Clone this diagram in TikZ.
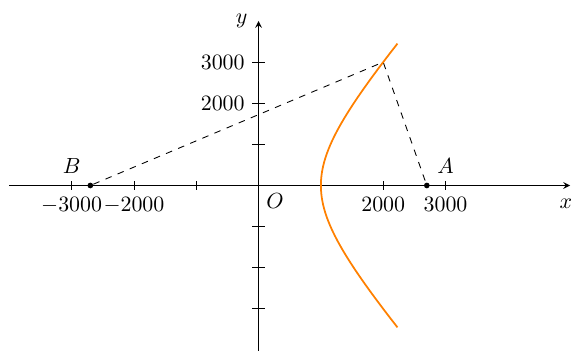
\documentclass[tikz,border=0pt]{standalone}
\usepackage{amsmath}
\usepackage{amssymb}
\usetikzlibrary{arrows.meta}
\definecolor{curveOrange}{HTML}{FF8000}

\begin{document}
\begin{tikzpicture}[x=1cm,y=0.66cm,>=stealth,
	dot/.style={circle,fill=black,inner sep=0pt,minimum size=2.6pt}]
			\useasboundingbox(-4.15,-4.02)rectangle(5.03,4.51);
			% axes
			\coordinate(xl)at(-4,0);\coordinate(xr)at(5,0);
			\coordinate(yb)at(0,-4.1);\coordinate(yt)at(0,4);
			\draw[->](xl)--(xr);
			\draw[->](yb)--(yt);
			\node(xlab)at(4.93,-0.44){$x$};
			\node(ylab)at(-0.27,4.0){$y$};
			\coordinate(O)at(0,0);
			\node[below right](olab)at(O){$O$};
			\foreach \x in{-3,-2,-1,1,2,3}{
				\draw(\x,-0.1)--(\x,0.1);
				\draw(-0.1,\x)--(0.1,\x);
			}
			\foreach \x/\lb in{-3/-3000,-2/-2000,2/2000,3/3000}
				\node[below]at(\x,-0.1){$\lb$};
			\foreach \y/\lb in{3/3000,2/2000}
				\node[left]at(-0.1,\y){$\lb$};
			% points
			\node[dot](A)at(2.7,0){};
			\node[dot](B)at(-2.7,0){};
			\coordinate(M)at(2,3);
			\node[above](alab)at(3,0.1){$A$};
			\node[above](blab)at(-3,0.1){$B$};
			\draw[dashed](B)--(M)--(A);
			% hyperbola
			\draw[curveOrange,thick,domain=-3.45:3.45,smooth,samples=60,variable=\t]
			plot({sqrt(1+\t*\t/3)},\t);
\end{tikzpicture}
\end{document}
